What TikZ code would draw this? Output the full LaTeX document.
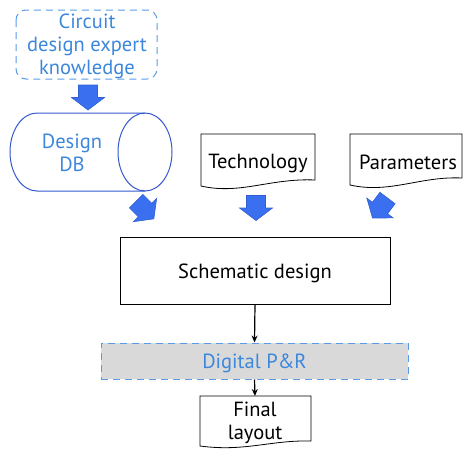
\documentclass[tikz,border=0pt]{standalone}
\usepackage{fontspec}
\setmainfont{PT Sans}
\usetikzlibrary{calc,arrows.meta}
\definecolor{txtblue}{HTML}{3C87DC}
\definecolor{dashblue}{HTML}{5A9BE8}
\definecolor{arrfill}{HTML}{3A6FF0}
\definecolor{arrdraw}{HTML}{2F5FD0}
\definecolor{cylblue}{HTML}{3458D0}
\definecolor{prgray}{HTML}{D9D9D9}
\tikzset{
  x=1pt,y=-1pt,
  lbl/.style={font=\fontsize{20.5}{23}\selectfont,align=center,inner sep=0pt},
  bluelbl/.style={lbl,text=txtblue},
  lowtext/.style={text height=17.5pt,text depth=2pt},
  blockarr/.style={fill=arrfill,draw=arrdraw,line width=0.6pt,line join=miter},
  thinarr/.style={-{Stealth[length=7pt,width=6pt]},line width=1.2pt},
  docline/.style={draw=black,line width=0.8pt},
}
\newcommand\blockarrow[3]{% name, center, rotation
  \begin{scope}[shift={#2},rotate=#3]
    \coordinate (#1) at (0,0);
    \draw[blockarr] (-9.5,-12.5) -- (9.5,-12.5) -- (9.5,0) -- (16.5,0) -- (0,12.5) -- (-16.5,0) -- (-9.5,0) -- cycle;
  \end{scope}}
\begin{document}
\begin{tikzpicture}
\useasboundingbox (0,0) rectangle (463,450);
% Circuit knowledge
\node[bluelbl] (ck) at (87,46.5) {Circuit\\design expert\\knowledge};
\draw[dashblue,dashed,dash pattern=on 7pt off 5pt,line width=1pt,rounded corners=10pt] (16,10) rectangle (157,79);
% arrow down
\blockarrow{a1}{(88,97.5)}{0}
% cylinder
\node[bluelbl] (db) at (72,153) {Design\\DB};
\draw[cylblue,line width=1pt] (145,113) -- (37,113) .. controls (22,113) and (10,130.5) .. (10,152) .. controls (10,173.5) and (22,191) .. (37,191) -- (145,191);
\draw[cylblue,line width=1pt] (145,113) .. controls (160,113) and (172,130.5) .. (172,152) .. controls (172,173.5) and (160,191) .. (145,191) .. controls (130,191) and (118,173.5) .. (118,152) .. controls (118,130.5) and (130,113) .. (145,113);
% Technology doc
\node[lbl] (tech) at (258,163.5) {Technology};
\draw[docline] (201,134) -- (315,134) -- (315,180) .. controls (270,178) and (240,195) .. (201,186) -- cycle;
% Parameters doc
\node[lbl] (par) at (408,162.5) {Parameters};
\draw[docline] (350,134) -- (462,134) -- (462,178) .. controls (420,176) and (390,194) .. (350,185) -- cycle;
% block arrows into schematic
\blockarrow{a2}{(145,210)}{45}
\blockarrow{a3}{(256,208)}{0}
\blockarrow{a4}{(380,208)}{-37}
% Schematic design
\node[lbl,lowtext,draw,line width=0.8pt,minimum width=270pt,minimum height=67pt] (sch) at (255,270.5) {Schematic design};
% Digital P&R
\node[lbl,lowtext,text=txtblue,fill=prgray,draw=dashblue,dashed,dash pattern=on 7pt off 5pt,line width=1pt,minimum width=307pt,minimum height=36pt] (pr) at (254.5,361) {Digital P\&R};
% Final layout
\node[lbl] (fl) at (255,423) {Final\\layout};
\coordinate (fltop) at (255,396);
\draw[docline] (200,396) -- (311,396) -- (311,441) .. controls (270,440) and (245,452) .. (200,446) -- cycle;
% connectors
\draw[thinarr] (sch.south) -- (pr.north);
\draw[thinarr] (pr.south) -- (fltop);
\end{tikzpicture}
\end{document}
